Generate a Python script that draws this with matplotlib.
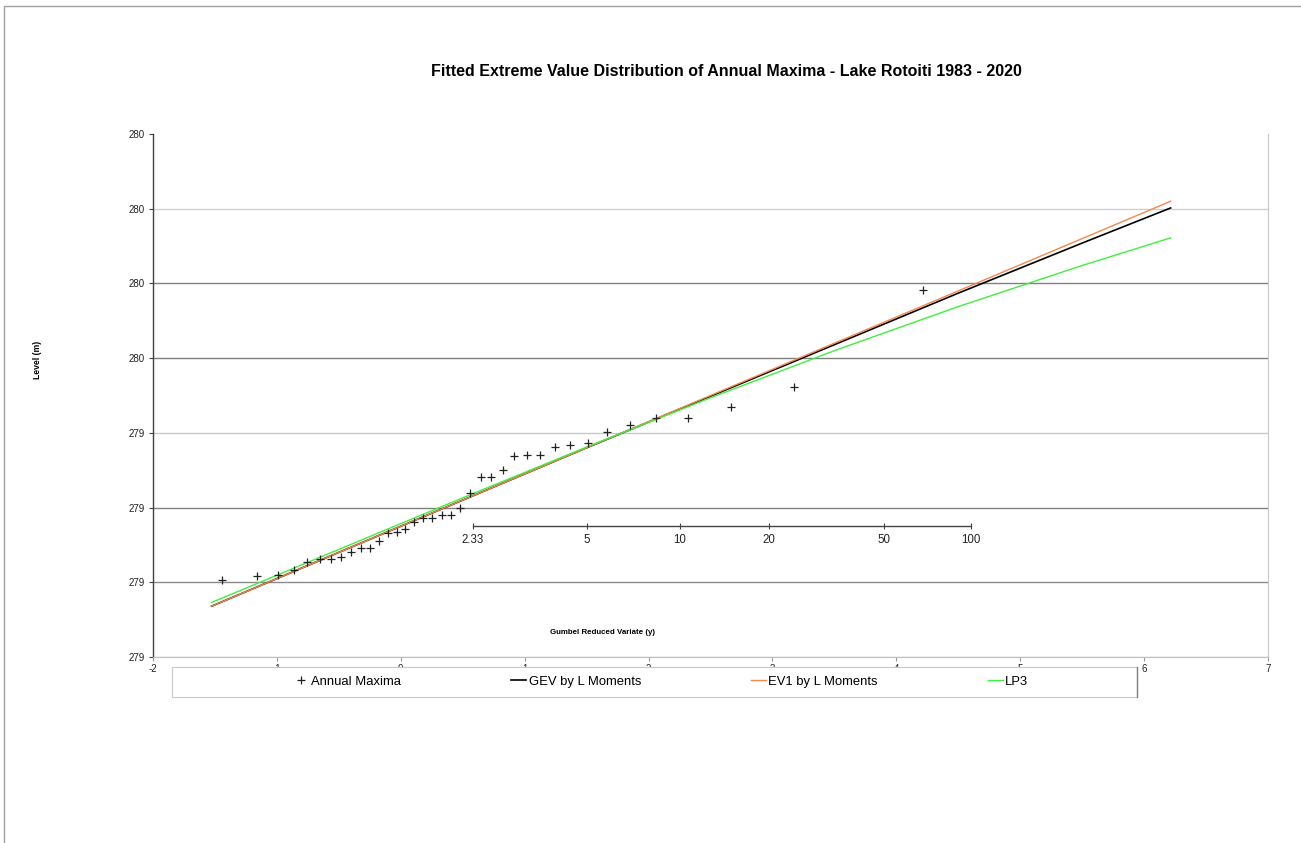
import matplotlib
matplotlib.use("Agg")
import matplotlib.pyplot as plt
from matplotlib.lines import Line2D
from matplotlib.patches import Rectangle

plt.rcParams['font.family'] = ['Liberation Sans', 'DejaVu Sans']
plt.rcParams['axes.unicode_minus'] = False

# Gumbel reduced variate of each annual maximum (plotting positions) and level (m)
am_y = [-1.440, -1.162, -0.994, -0.863, -0.753, -0.655, -0.565, -0.481, -0.401, -0.324,
        -0.250, -0.177, -0.105, -0.033, 0.038, 0.110, 0.182, 0.255, 0.329, 0.405,
        0.482, 0.562, 0.645, 0.732, 0.822, 0.917, 1.018, 1.126, 1.242, 1.369,
        1.509, 1.667, 1.849, 2.060, 2.322, 2.666, 3.175, 4.213]
am_level = [279.203, 279.208, 279.210, 279.216, 279.227, 279.231, 279.231, 279.234, 279.240, 279.246,
            279.246, 279.255, 279.266, 279.267, 279.271, 279.281, 279.286, 279.286, 279.290, 279.290,
            279.300, 279.320, 279.341, 279.341, 279.350, 279.369, 279.371, 279.371, 279.381, 279.384,
            279.386, 279.401, 279.411, 279.420, 279.420, 279.434, 279.461, 279.591]

# fitted curves
fit_y = [-1.527, -0.5, 0.5, 1.5, 2.5, 3.5, 4.5, 5.5, 6.214]
gev = [279.168, 279.240, 279.310, 279.380, 279.449, 279.518, 279.587, 279.654, 279.701]
ev1 = [279.168, 279.240, 279.310, 279.380, 279.450, 279.520, 279.590, 279.660, 279.710]
lp3 = [279.173, 279.244, 279.313, 279.381, 279.447, 279.510, 279.569, 279.624, 279.661]

# return period scale
rp_labels = ['2.33', '5', '10', '20', '50', '100']
rp_pos = [0.579, 1.500, 2.250, 2.970, 3.902, 4.600]
rp_level = 279.276

yticks = [279.1, 279.2, 279.3, 279.4, 279.5, 279.6, 279.7, 279.8]
ytick_labels = ['279', '279', '279', '279', '280', '280', '280', '280']
grid_colors = ['#c0c0c0', '#8a8a8a', '#808080', '#c8c8c8', '#808080', '#808080', '#d0d0d0', 'none']
xticks = [-2, -1, 0, 1, 2, 3, 4, 5, 6, 7]

fig = plt.figure(figsize=(13.01, 8.43), dpi=100)
ax = fig.add_axes([153/1301, 1-657/843, (1268-153)/1301, (657-134)/843])

for v, c in zip(yticks, grid_colors):
    ax.axhline(v, color=c, lw=1.0, zorder=0.5)

ax.plot(fit_y, gev, color='#000000', lw=1.2, label='GEV by L Moments', zorder=2)
ax.plot(fit_y, ev1, color='#f4874b', lw=1.0, label='EV1 by L Moments', zorder=3)
ax.plot(fit_y, lp3, color='#3ef03e', lw=1.0, label='LP3', zorder=4)
ax.plot(am_y, am_level, linestyle='none', marker='+', markersize=5.5, markeredgewidth=0.9,
        color='#222222', label='Annual Maxima', zorder=5)

# return period axis
ax.plot([rp_pos[0], rp_pos[-1]], [rp_level, rp_level], color='#444444', lw=1.0, zorder=2)
for p, lab in zip(rp_pos, rp_labels):
    ax.plot([p], [rp_level], marker='|', markersize=4, color='#444444', markeredgewidth=0.8)
    ax.text(p, rp_level - 0.012, lab, ha='center', va='top', fontsize=8.3, color='#222222')

ax.set_xlim(-2, 7)
ax.set_ylim(279.1, 279.8)
ax.set_yticks(yticks)
ax.set_yticklabels(ytick_labels)
ax.set_xticks(xticks)
ax.tick_params(axis='y', labelsize=7, length=3, width=0.8, color='#404040', pad=3, labelcolor='#222222')
ax.tick_params(axis='x', labelsize=7, length=3, width=0.8, color='#999999', pad=2, labelcolor='#222222')

ax.spines['top'].set_visible(False)
ax.spines['left'].set_color('#404040')
ax.spines['left'].set_linewidth(1.0)
ax.spines['right'].set_color('#c8c8c8')
ax.spines['bottom'].set_color('#c0c0c0')

fig.text(603/1301, 1-632/843, 'Gumbel Reduced Variate (y)', fontsize=5.7,
         fontweight='bold', ha='center', va='center')
fig.text(37/1301, 1-360/843, 'Level (m)', rotation=90, fontsize=6.2, fontweight='bold',
         ha='center', va='center')
fig.text(726/1301, 1-72/843, 'Fitted Extreme Value Distribution of Annual Maxima - Lake Rotoiti 1983 - 2020',
         fontsize=11.5, fontweight='bold', ha='center', va='center')

# legend box
fig.patches.append(Rectangle((172/1301, 1-697/843), (1137-172)/1301, 30/843,
                             transform=fig.transFigure, facecolor='white',
                             edgecolor='#c8c8c8', lw=0.8, zorder=1))
fig.add_artist(Line2D([1137/1301, 1137/1301], [1-697/843, 1-667/843], color='#808080', lw=1.0,
                      transform=fig.transFigure, zorder=2))
handles = [
    Line2D([], [], linestyle='none', marker='+', markersize=5.5, markeredgewidth=0.9, color='#222222'),
    Line2D([], [], color='#000000', lw=1.2),
    Line2D([], [], color='#f4874b', lw=1.0),
    Line2D([], [], color='#3ef03e', lw=1.0),
]
labels = ['Annual Maxima', 'GEV by L Moments', 'EV1 by L Moments', 'LP3']
fig.legend(handles, labels, ncol=4, frameon=False, loc='center',
           bbox_to_anchor=(661/1301, 1-682/843), fontsize=9.4,
           handlelength=1.15, handletextpad=0.2, columnspacing=8.4)

# outer chart border
fig.patches.append(Rectangle((4/1301, -0.01), 1.02, 1-6/843+0.01, transform=fig.transFigure,
                             fill=False, edgecolor='#a0a0a0', lw=1.0, zorder=0))

fig.savefig('out.png', dpi=100)
